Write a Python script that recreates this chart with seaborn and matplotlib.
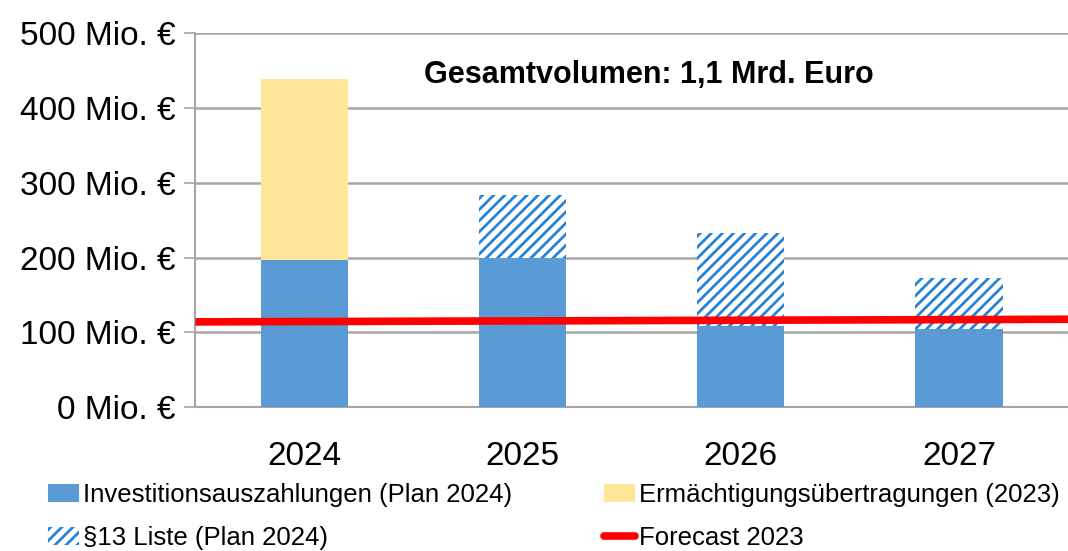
import matplotlib
matplotlib.use("Agg")
import matplotlib.pyplot as plt
import matplotlib.ticker as mticker
from matplotlib.patches import Patch
from matplotlib.lines import Line2D
import pandas as pd
import seaborn as sns

# Werte in Mio. Euro
years = ["2024", "2025", "2026", "2027"]
invest_plan = [197, 200, 108, 104]          # Investitionsauszahlungen (Plan 2024)
ermaechtigung = [242, 0, 0, 0]              # Ermächtigungsübertragungen (2023)
liste13 = [0, 83, 125, 68]                  # §13 Liste (Plan 2024)
forecast_start, forecast_end = 114, 117.5   # Forecast 2023

BLUE = "#5B9BD5"
HATCH_BLUE = "#2A82D4"
YELLOW = "#FFE699"
RED = "#FF0000"
GRID = "#A6A6A6"

sns.set_theme(style="white")
plt.rcParams["font.family"] = ["Liberation Sans", "DejaVu Sans"]
plt.rcParams["hatch.linewidth"] = 2.0
plt.rcParams["hatch.color"] = HATCH_BLUE
plt.rcParams["text.color"] = "black"
plt.rcParams["xtick.color"] = "black"
plt.rcParams["ytick.color"] = "black"

df = pd.DataFrame({"year": years, "invest": invest_plan,
                   "erm": ermaechtigung, "liste": liste13})
df["total"] = df["invest"] + df["erm"] + df["liste"]

fig = plt.figure(figsize=(10.68, 5.51), dpi=100)
ax = fig.add_axes([0.183, 0.261, 0.817, 0.679])

# obere Segmente (werden vom blauen Sockel überdeckt)
sns.barplot(data=df, x="year", y="total", ax=ax, width=0.4, color="white",
            linewidth=0, saturation=1, zorder=2)
for patch, erm in zip(ax.patches, df["erm"]):
    if erm > 0:
        patch.set_facecolor(YELLOW)
    else:
        patch.set_facecolor("white")
        patch.set_hatch("///")
        patch.set_edgecolor(HATCH_BLUE)
        patch.set_linewidth(0)

sns.barplot(data=df, x="year", y="invest", ax=ax, width=0.4, color=BLUE,
            linewidth=0, saturation=1, zorder=3)

xmin, xmax = -0.5, len(years) - 0.5
ax.plot([xmin, xmax], [forecast_start, forecast_end], color=RED, lw=5.5,
        zorder=4, solid_capstyle="butt")

ax.set_xlim(xmin, xmax)
ax.set_ylim(0, 500)
ax.set_yticks(range(0, 501, 100))
ax.yaxis.set_major_formatter(mticker.FuncFormatter(lambda v, p: f"{int(v)} Mio. €"))
ax.yaxis.grid(True, color=GRID, lw=1.8, zorder=0)
ax.set_axisbelow(True)

ax.set_xticks([0, 1, 2, 3])
ax.set_xticks([-0.5, 0.5, 1.5, 2.5, 3.5], minor=True)
ax.tick_params(axis="x", which="major", length=0, labelsize=24, pad=24)
ax.tick_params(axis="x", which="minor", length=8, width=1.2, color=GRID, direction="out")
ax.tick_params(axis="y", length=8, width=1.2, color=GRID, direction="out",
               labelsize=24, pad=6, left=True)
ax.set_xlabel("")
ax.set_ylabel("")

for side in ["top", "right"]:
    ax.spines[side].set_visible(False)
for side in ["left", "bottom"]:
    ax.spines[side].set_color(GRID)
    ax.spines[side].set_linewidth(1.5)

ax.text(0.52, 0.887, "Gesamtvolumen: 1,1 Mrd. Euro", transform=ax.transAxes,
        ha="center", va="center", fontsize=22, fontweight="bold")

handles = [
    Patch(facecolor=BLUE, edgecolor="none"),
    Patch(facecolor="white", edgecolor=HATCH_BLUE, hatch="///", linewidth=0),
    Patch(facecolor=YELLOW, edgecolor="none"),
    Line2D([0], [0], color=RED, lw=5.5),
]
labels = ["Investitionsauszahlungen (Plan 2024)", "§13 Liste (Plan 2024)",
          "Ermächtigungsübertragungen (2023)", "Forecast 2023"]
fig.legend(handles, labels, ncol=2, loc="upper left", bbox_to_anchor=(0.045, 0.124),
           frameon=False, fontsize=18.5, handlelength=1.2, handletextpad=0.15,
           columnspacing=3.6, labelspacing=0.75, borderaxespad=0, borderpad=0)

fig.savefig("out.png", dpi=100)
